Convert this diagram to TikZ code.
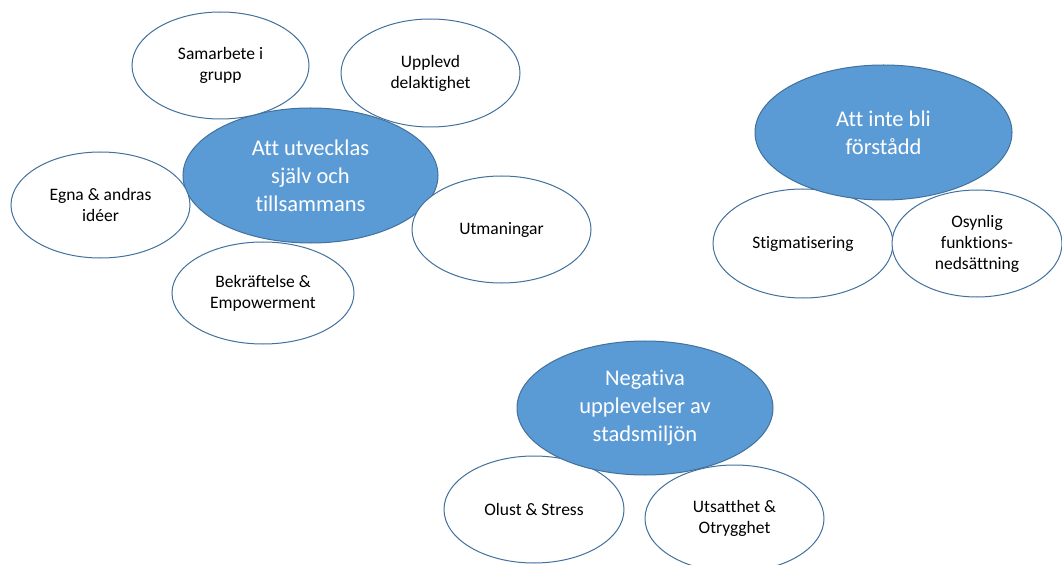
\documentclass[tikz,border=0pt]{standalone}
\usepackage{fontspec}
\setmainfont{Carlito}[Ligatures={NoCommon}]
\usetikzlibrary{shapes.geometric}
\definecolor{accent}{HTML}{5B9BD5}
\definecolor{edgeblue}{HTML}{41719C}
\begin{document}
\begin{tikzpicture}[x=1bp,y=-1bp,
  sat/.style={ellipse, draw=edgeblue, line width=1bp, fill=white, inner sep=0pt, align=center,
    font=\fontsize{17.5bp}{21bp}\selectfont},
  mainbox/.style={ellipse, draw=edgeblue, line width=1bp, fill=accent, text=white, inner sep=0pt, align=center,
    font=\fontsize{22.5bp}{28bp}\selectfont},
  ]
\clip (0,0) rectangle (1062,565);
\fill[white] (0,0) rectangle (1062,565);
% left cluster: main first, satellites on top
\node[mainbox, minimum width=255bp, minimum height=135bp] (a) at (310.5,175.5) {Att utvecklas\\själv och\\tillsammans};
\node[sat, minimum width=177bp, minimum height=107bp] (a1) at (220.5,65.5) {Samarbete i\\grupp};
\node[sat, minimum width=179bp, minimum height=108bp] (a2) at (430.5,73) {Upplevd\\delaktighet};
\node[sat, minimum width=179bp, minimum height=106bp] (a3) at (100.5,205) {Egna \& andras\\idéer};
\node[sat, minimum width=179bp, minimum height=107bp] (a4) at (501.5,229.5) {Utmaningar};
\node[sat, minimum width=182bp, minimum height=102bp] (a5) at (263,293) {Bekräftelse \&\\Empowerment};
% right cluster: satellites first, main on top
\node[sat, minimum width=180bp, minimum height=109bp] (b1) at (803,243.5) {Stigmatisering};
\node[sat, minimum width=170bp, minimum height=107bp] (b2) at (977,243.5) {Osynlig\\funktions-\\nedsättning};
\node[mainbox, minimum width=257bp, minimum height=135bp] (b) at (883.5,132.5) {Att inte bli\\förstådd};
% bottom cluster
\node[sat, minimum width=180bp, minimum height=107bp] (c1) at (534,509.5) {Olust \& Stress};
\node[sat, minimum width=179bp, minimum height=107bp] (c2) at (734.5,518.5) {Utsatthet \&\\Otrygghet};
\node[mainbox, minimum width=256bp, minimum height=134bp] (c) at (645,408) {Negativa\\upplevelser av\\stadsmiljön};
\end{tikzpicture}
\end{document}
